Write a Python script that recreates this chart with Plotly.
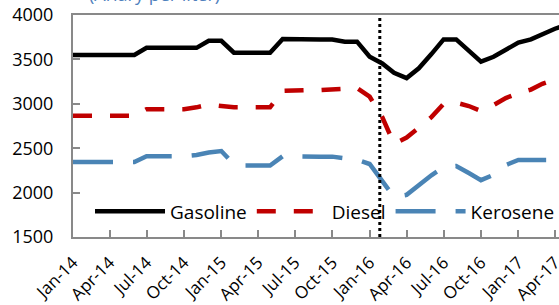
import plotly.graph_objects as go
import pandas as pd

dates = pd.date_range("2014-01-01", "2017-05-01", freq="MS")

gasoline = [3550, 3550, 3550, 3550, 3550, 3550,
            3630, 3630, 3630, 3630, 3630,
            3710, 3710,
            3575, 3575, 3575, 3575,
            3730, 3725, 3725, 3725, 3725,
            3700, 3700,
            3530, 3455, 3350, 3290, 3400, 3560,
            3725, 3725, 3595, 3475, 3530, 3605, 3690, 3725, 3785, 3845, 3895]

diesel = [2865, 2865, 2865, 2865, 2865, 2865,
          2940, 2940, 2940, 2940, 2960,
          2992, 2975, 2960, 2960, 2960, 2960,
          3145, 3155, 3155, 3155, 3163, 3172, 3178,
          3080, 2850, 2550, 2620, 2730, 2850,
          3000, 3012, 2975, 2920, 2985, 3065, 3120, 3160, 3225, 3275, 3320]

kerosene = [2345, 2345, 2345, 2345, 2345, 2345,
            2410, 2410, 2410, 2410, 2423,
            2452, 2468, 2318, 2305, 2305, 2305,
            2410, 2405, 2405, 2405, 2405, 2390, 2370,
            2322, 2120, 1950, 1975, 2085, 2195,
            2285, 2300, 2220, 2140, 2200, 2310, 2367, 2367, 2367, 2367, 2367]

tick_dates = pd.date_range("2014-01-01", "2017-04-01", freq="3MS")
tick_labels = [d.strftime("%b-%y") for d in tick_dates]

event_date = "2016-01-26"
x_range = ["2014-01-01", "2017-04-11"]
y_range = [1500, 4000]

FONT = "Open Sans"
fig = go.Figure()
fig.add_trace(go.Scatter(x=dates, y=gasoline, name="Gasoline", mode="lines",
                         line=dict(color="#000000", width=4.5)))
fig.add_trace(go.Scatter(x=dates, y=diesel, name="Diesel", mode="lines",
                         line=dict(color="#C00000", width=4.5, dash="19px,18px")))
fig.add_trace(go.Scatter(x=dates, y=kerosene, name="Kerosene", mode="lines",
                         line=dict(color="#4A84B5", width=4.5, dash="40px,20px")))

fig.add_shape(type="line", xref="x", yref="y", x0=event_date, x1=event_date,
              y0=y_range[0], y1=3985,
              line=dict(color="#000000", width=3, dash="dot"))

fig.add_annotation(text="(Ariary per liter)", xref="paper", yref="paper",
                   x=0.167, y=1, yanchor="bottom", xanchor="center", yshift=7,
                   showarrow=False, font=dict(family=FONT, size=18, color="#4F81BD"))

fig.update_layout(
    width=559, height=305,
    margin=dict(l=73, r=0, t=15, b=68, autoexpand=False),
    paper_bgcolor="white", plot_bgcolor="white",
    font=dict(family=FONT, size=18, color="#000000"),
    showlegend=True,
    legend=dict(orientation="h", x=0.035, y=0.115, xanchor="left", yanchor="middle",
                bgcolor="rgba(0,0,0,0)", font=dict(size=19), itemwidth=70,
                tracegroupgap=0),
    xaxis=dict(type="date", range=x_range, tickmode="array", automargin=False,
               tickvals=tick_dates, ticktext=tick_labels, tickangle=-45,
               ticks="inside", ticklen=7, tickcolor="#898989", tickwidth=1.5,
               showline=True, linecolor="#898989", linewidth=2, mirror=True,
               showgrid=False, zeroline=False, tickfont=dict(size=17),
               ticklabelstandoff=7, ticklabeloverflow="allow"),
    yaxis=dict(range=y_range, tickvals=[1500, 2000, 2500, 3000, 3500, 4000],
               automargin=False,
               ticks="inside", ticklen=7, tickcolor="#898989", tickwidth=1.5,
               showline=True, linecolor="#898989", linewidth=2,
               showgrid=False, zeroline=False, ticklabelstandoff=14,
               tickfont=dict(size=18)),
)

fig.write_html("out.html", config={"displayModeBar": False})

# remove the default page margin so the figure sits at the window's top-left corner
with open("out.html", "r", encoding="utf-8") as f:
    html = f.read()
html = html.replace("<head>", "<head><style>html,body{margin:0;padding:0;overflow:hidden;}</style>", 1)
with open("out.html", "w", encoding="utf-8") as f:
    f.write(html)
